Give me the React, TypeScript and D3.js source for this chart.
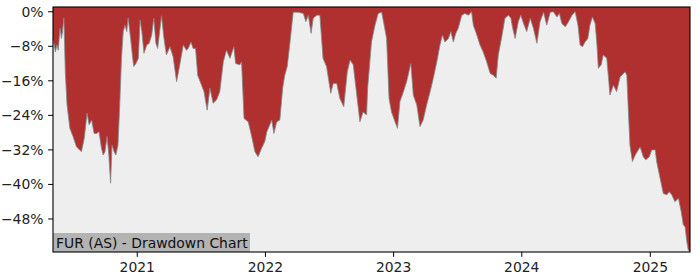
import React, { useEffect } from "react";
import * as d3 from "d3";

const title = "FUR (AS) - Drawdown Chart";

const dates: string[] = [
  "2020-05-06","2020-05-13","2020-05-17","2020-05-21","2020-05-26","2020-05-30","2020-06-02","2020-06-06","2020-06-10","2020-06-15",
  "2020-06-23","2020-07-02","2020-07-12","2020-07-26","2020-08-03","2020-08-11","2020-08-17","2020-08-24","2020-08-31","2020-09-07",
  "2020-09-14","2020-09-21","2020-09-26","2020-10-01","2020-10-07","2020-10-12","2020-10-17","2020-10-21","2020-10-27","2020-11-01",
  "2020-11-07","2020-11-12","2020-11-17","2020-11-22","2020-11-27","2020-12-02","2020-12-06","2020-12-13","2020-12-19","2020-12-22",
  "2020-12-28",
  "2021-01-04","2021-01-09","2021-01-14","2021-01-20","2021-01-28","2021-02-04","2021-02-11","2021-02-17","2021-02-23","2021-02-28",
  "2021-03-11","2021-03-18","2021-03-25","2021-04-04","2021-04-13","2021-04-23","2021-05-02","2021-05-12","2021-05-21","2021-05-26",
  "2021-06-03","2021-06-09","2021-06-16","2021-06-22","2021-07-03","2021-07-10","2021-07-19","2021-07-27","2021-08-05","2021-08-15",
  "2021-08-24","2021-09-03","2021-09-12","2021-09-22","2021-10-03","2021-10-08","2021-10-20","2021-10-25","2021-11-01","2021-11-13",
  "2021-11-22","2021-12-02","2021-12-11","2021-12-21","2021-12-30",
  "2022-01-05","2022-01-19","2022-01-25","2022-02-02","2022-02-11","2022-02-19","2022-02-25","2022-03-04","2022-03-12","2022-03-21",
  "2022-04-04","2022-04-19","2022-04-26","2022-05-03","2022-05-11","2022-05-17","2022-05-27","2022-06-05","2022-06-14","2022-06-24",
  "2022-07-06","2022-07-13","2022-07-23","2022-08-01","2022-08-12","2022-08-22","2022-08-30","2022-09-08","2022-09-18","2022-09-27",
  "2022-10-06","2022-10-16","2022-10-19","2022-10-30","2022-11-09","2022-11-18","2022-11-28","2022-12-05","2022-12-12","2022-12-19",
  "2022-12-26",
  "2023-01-05","2023-01-12","2023-01-19","2023-01-29","2023-02-07","2023-02-19","2023-02-26","2023-03-08","2023-03-17","2023-03-26",
  "2023-04-05","2023-04-15","2023-04-24","2023-05-04","2023-05-13","2023-05-20","2023-05-27","2023-06-06","2023-06-13","2023-06-20",
  "2023-06-27","2023-07-04","2023-07-14","2023-07-23","2023-08-02","2023-08-11","2023-08-16","2023-08-26","2023-09-04","2023-09-13",
  "2023-09-23","2023-10-03","2023-10-12","2023-10-20","2023-10-26","2023-11-05","2023-11-14","2023-11-24","2023-12-01","2023-12-06",
  "2023-12-13","2023-12-22","2023-12-29",
  "2024-01-06","2024-01-15","2024-01-25","2024-02-03","2024-02-13","2024-02-22","2024-03-03","2024-03-12","2024-03-22","2024-03-31",
  "2024-04-10","2024-04-17","2024-04-24","2024-05-04","2024-05-13","2024-05-23","2024-06-01","2024-06-09","2024-06-15","2024-06-22",
  "2024-06-29","2024-07-07","2024-07-13","2024-07-20","2024-07-28","2024-08-02","2024-08-06","2024-08-14","2024-08-20","2024-08-30",
  "2024-09-04","2024-09-08","2024-09-18","2024-09-27","2024-10-07","2024-10-21","2024-10-26","2024-10-31","2024-11-04","2024-11-11",
  "2024-11-19","2024-12-03","2024-12-12","2024-12-19","2024-12-29",
  "2025-01-05","2025-01-15","2025-01-19","2025-01-29","2025-02-07","2025-02-17","2025-02-24","2025-03-03","2025-03-12","2025-03-22",
  "2025-03-30","2025-04-05","2025-04-10","2025-04-15","2025-04-19","2025-04-24"
];

const drawdown: number[] = [
  -6.2,-9.3,-7.7,-8.9,-3.8,-6.2,-4.6,-1.4,-13.9,-21.6,
  -27.0,-28.9,-31.3,-32.4,-29.3,-23.5,-26.2,-25.1,-28.2,-28.2,
  -27.8,-31.6,-33.2,-32.4,-28.9,-33.2,-39.7,-30.9,-32.4,-33.2,
  -30.9,-21.6,-10.8,-4.6,-3.1,-4.6,-1.4,-6.2,-10.8,-12.7,
  -12.0,
  -10.8,-1.9,-4.6,-9.6,-7.7,-7.3,-5.4,-1.5,-7.3,-8.5,
  -0.9,-6.2,-10.0,-8.1,-10.4,-16.2,-12.3,-7.7,-8.9,-8.5,
  -7.0,-8.5,-8.5,-14.7,-17.0,-18.5,-22.8,-17.7,-21.2,-20.4,
  -18.5,-11.6,-8.9,-10.8,-8.1,-12.0,-12.3,-11.6,-24.7,-25.5,
  -28.6,-32.4,-33.6,-31.6,-30.1,
  -27.8,-25.1,-28.2,-25.5,-25.1,-17.7,-14.7,-12.7,-7.0,-0.1,
  -0.1,-0.4,-2.3,-0.8,-5.0,-1.5,-0.8,-0.8,-10.8,-12.7,
  -18.9,-16.6,-16.6,-20.1,-22.0,-13.9,-11.2,-12.3,-19.3,-25.5,
  -23.2,-23.9,-17.7,-7.0,-3.1,-0.4,-0.1,-3.1,-6.2,-20.1,
  -23.2,
  -25.5,-27.0,-20.8,-18.5,-16.2,-12.0,-19.3,-21.6,-26.6,-25.1,
  -21.6,-18.5,-15.4,-11.6,-7.7,-5.4,-7.0,-6.2,-4.6,-7.0,
  -5.0,-3.8,-0.8,-0.4,-0.8,0,-3.1,-5.4,-7.7,-9.3,
  -11.6,-14.3,-14.7,-15.4,-10.0,-5.8,-1.5,-0.8,-1.5,-3.8,
  -6.2,-2.3,-0.8,
  -2.7,-4.6,-1.5,-3.8,-7.3,-2.3,-0.1,-3.1,-0.1,0,
  -1.2,-0.4,-2.7,-3.5,-2.3,-0.8,0,-3.1,-7.7,-8.1,
  -7.0,-6.2,-3.1,-1.2,-2.7,-7.7,-13.1,-12.3,-10.0,-10.8,
  -15.4,-19.3,-17.0,-18.5,-15.1,-13.9,-14.7,-23.9,-30.9,-34.7,
  -33.2,-31.3,-33.6,-34.3,-33.6,
  -32.0,-32.0,-34.7,-38.6,-42.1,-42.4,-41.7,-42.4,-44.0,-43.2,
  -46.3,-49.4,-49.8,-53.3,-55.2,-55.6
];

const yTicks: number[] = [0, -8, -16, -24, -32, -40, -48];
const xTickYears: number[] = [2021, 2022, 2023, 2024, 2025];

const W = 700;
const H = 280;
const M = { left: 53, right: 690, top: 7, bottom: 252 };
const FONT = "'DejaVu Sans', sans-serif";

export default function App() {
  useEffect(() => {
    document.body.style.margin = "0";
  }, []);

  const parse = d3.timeParse("%Y-%m-%d");
  const data = dates.map((d, i) => ({ date: parse(d) as Date, v: drawdown[i] }));

  const x = d3
    .scaleTime()
    .domain(d3.extent(data, (d) => d.date) as [Date, Date])
    .range([M.left, M.right]);
  const yMin = d3.min(data, (d) => d.v) as number;
  const y = d3.scaleLinear().domain([yMin - 0.05, 1.1]).range([M.bottom, M.top]);

  const area = d3
    .area<{ date: Date; v: number }>()
    .x((d) => x(d.date))
    .y0(M.top)
    .y1((d) => y(d.v));
  const line = d3
    .line<{ date: Date; v: number }>()
    .x((d) => x(d.date))
    .y((d) => y(d.v));

  const fmtY = (v: number) => (v === 0 ? "0%" : "\u2212" + Math.abs(v) + "%");

  return (
    <svg
      width={W}
      height={H}
      style={{ position: "absolute", left: 0, top: 0, background: "#ffffff" }}
      fontFamily={FONT}
    >
      <rect x={M.left} y={M.top} width={M.right - M.left} height={M.bottom - M.top} fill="#eeeeee" />
      <path d={area(data) || ""} fill="#b03030" />
      <path d={line(data) || ""} fill="none" stroke="#7f8a8a" strokeWidth={1} strokeOpacity={0.8} />

      {/* title box */}
      <rect x={M.left} y={233} width={197} height={M.bottom - 233} fill="#b3b3b3" />
      <text x={56} y={247.5} fontSize={13.9} fill="#111">
        {title}
      </text>

      {/* frame */}
      <rect
        x={M.left}
        y={M.top}
        width={M.right - M.left}
        height={M.bottom - M.top}
        fill="none"
        stroke="#000"
        strokeWidth={1.1}
      />

      {yTicks.map((t) => (
        <g key={t}>
          <line x1={M.left - 4.9} x2={M.left} y1={y(t)} y2={y(t)} stroke="#000" strokeWidth={1} />
          <text x={M.left - 9.5} y={y(t)} dy="0.35em" textAnchor="end" fontSize={13.9} fill="#222">
            {fmtY(t)}
          </text>
        </g>
      ))}

      {xTickYears.map((yr) => {
        const xp = x(new Date(yr, 0, 1));
        return (
          <g key={yr}>
            <line x1={xp} x2={xp} y1={M.bottom} y2={M.bottom + 4.9} stroke="#000" strokeWidth={1} />
            <text x={xp} y={271.5} textAnchor="middle" fontSize={13.9} fill="#222">
              {yr}
            </text>
          </g>
        );
      })}
    </svg>
  );
}
